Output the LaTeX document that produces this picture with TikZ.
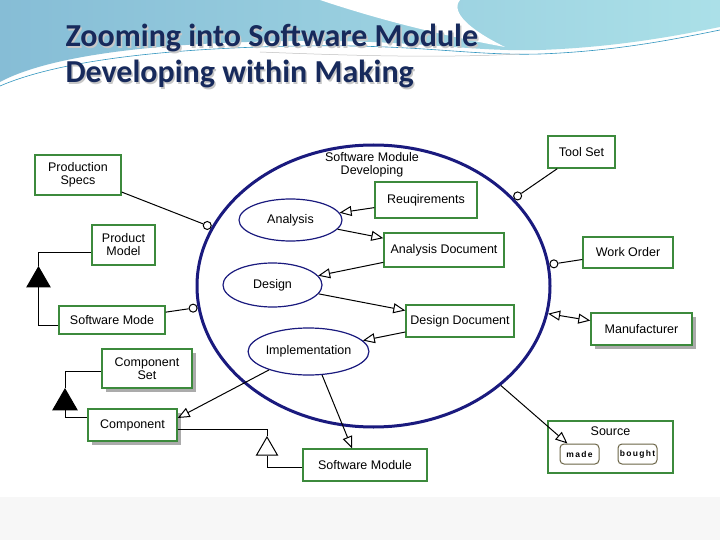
\documentclass[tikz,border=0pt]{standalone}
\usepackage{fontspec}
\setmainfont{Liberation Sans}
\newfontfamily\titlefont{Carlito}
\usetikzlibrary{arrows.meta,positioning,shapes.geometric,shadows}

\definecolor{devblue}{HTML}{1A1A7E}
\definecolor{boxgreen}{HTML}{3C8A3C}
\definecolor{titlenavy}{HTML}{172A5C}
\definecolor{wavedark}{HTML}{86BDD6}
\definecolor{wavelight}{HTML}{ABE0E8}
\definecolor{tagbrown}{HTML}{6B6446}

\tikzset{
  box/.style={rectangle, draw=boxgreen, line width=1.4pt, fill=white, inner sep=2pt,
    align=center, font=\fontsize{12.5}{13}\selectfont},
  shbox/.style={box, drop shadow={shadow xshift=4pt, shadow yshift=-4pt, fill=black!33, opacity=1}},
  act/.style={ellipse, draw=devblue, line width=1.2pt, inner sep=0pt, font=\fontsize{12.5}{13}\selectfont},
  lolli/.style={circle, draw, fill=white, line width=1pt, minimum size=8pt, inner sep=0pt},
  tag/.style={rectangle, rounded corners=4pt, draw=tagbrown, line width=1pt, minimum width=39pt,
    minimum height=20pt, inner sep=0pt, font=\fontsize{8.5}{9}\selectfont\bfseries\addfontfeatures{LetterSpace=15}},
  arr/.style={-{Triangle[open, length=12pt, width=10pt]}, line width=1pt},
  gen/.style={regular polygon, regular polygon sides=3, draw, line width=1pt, inner sep=0pt},
  titletext/.style={anchor=base west, font=\titlefont\bfseries\fontsize{32}{36}\selectfont}
}

\begin{document}
\begin{tikzpicture}[x=1pt, y=-1pt, node distance=18pt]
    \useasboundingbox (0,0) rectangle (720,540);
    % slide background
    \fill[white] (0,0) rectangle (720,540);
    \fill[black!3] (0,497) rectangle (720,540);
    \shade[left color=wavedark, right color=wavelight]
      (0,0) -- (720,0) -- (720,27) .. controls (680,35) and (620,47) .. (540,50)
      .. controls (470,52) and (420,40) .. (300,41) .. controls (160,42) and (50,55) .. (0,82) -- cycle;
    \fill[white] (320,0) .. controls (380,20) and (440,35) .. (505,47)
      .. controls (470,30) and (450,12) .. (460,0) -- cycle;
    \draw[cyan!50!teal, line width=0.6pt] (0,86) .. controls (60,60) and (170,48) .. (300,46)
      .. controls (420,44) and (470,56) .. (540,54) .. controls (620,51) and (680,38) .. (720,30);
    \draw[black!25, line width=0.5pt] (260,52) .. controls (360,56) and (440,58) .. (520,54);

    % title
    \node[titletext, text=black!22] (t1s) at (63.5,48.5) {Zooming into Software Module};
    \node[titletext, text=black!22] (t2s) at (63.5,84.5) {Developing within Making};
    \node[titletext, text=titlenavy] (t1) at (62,47) {Zooming into Software Module};
    \node[titletext, text=titlenavy] (t2) at (62,83) {Developing within Making};

    % developing process
    \node[ellipse, draw=devblue, line width=3pt, minimum width=353pt, minimum height=282pt] (dev) at (373.5,286) {};
    \node[align=center, font=\fontsize{12.5}{13}\selectfont] (devlbl) at (372,165) {Software Module\\Developing};

    \node[act, minimum width=103pt, minimum height=42pt] (ana) at (290.5,220) {Analysis};
    \node[act, minimum width=99pt, minimum height=44pt] (des) at (272.5,285) {Design};
    \node[act, minimum width=117pt, minimum height=47pt] (impl) at (308.5,351.5) {Implementation};

    \node[box, minimum width=102pt, minimum height=36pt] (req) at (426,200) {Reuqirements};
    \node[box, minimum width=120pt, minimum height=34pt] (adoc) at (444,250) {Analysis Document};
    \node[box, minimum width=108pt, minimum height=32pt] (ddoc) at (460,321) {Design Document};

    % outside items
    \node[box, minimum width=86pt, minimum height=40pt] (pspec) at (78,175) {Production\\Specs};
    \node[box, minimum width=63pt, minimum height=40pt] (pmod) at (123.5,245) {Product\\Model};
    \node[box, minimum width=106pt, minimum height=28pt] (smod) at (112,320) {Software Mode};
    \node[shbox, minimum width=90pt, minimum height=39pt] (cset) at (147,368.5) {Component\\Set};
    \node[shbox, minimum width=89pt, minimum height=32pt] (comp) at (132.5,425) {Component};
    \node[box, minimum width=124pt, minimum height=32pt] (swm) at (365,465) {Software Module};

    \node[box, minimum width=67pt, minimum height=32pt] (tool) at (581.5,152) {Tool Set};
    \node[box, minimum width=90pt, minimum height=31pt] (work) at (628,252.5) {Work Order};
    \node[shbox, minimum width=101pt, minimum height=32pt] (manu) at (641.5,329) {Manufacturer};
    \node[box, minimum width=125pt, minimum height=52pt] (src) at (610.5,447) {};
    \node[font=\fontsize{12.5}{13}\selectfont, below=3pt of src.north] (srclbl) {Source};
    \node[tag] (made) at (579.5,454) {made};
    \node[tag, right=of made] (bought) {bought};

    % generalisation triangles
    \node[gen, fill=black, minimum size=26.6pt] (gp) at (38.5,280.3) {};
    \node[gen, fill=black, minimum size=27.7pt] (gc) at (65,402.9) {};
    \node[gen, fill=white, minimum size=24.2pt] (gs) at (267,449.1) {};

    % interface circles
    \node[lolli, anchor=340] (lps) at (dev.160) {};
    \node[lolli, anchor=7] (lsm) at (dev.187) {};
    \node[lolli, anchor=212] (lts) at (dev.32) {};
    \node[lolli, anchor=187] (lwo) at (dev.7) {};

    % flow
    \draw[arr] (req) -- (ana);
    \draw[arr] (ana) -- (adoc);
    \draw[arr] (adoc) -- (des);
    \draw[arr] (des) -- (ddoc);
    \draw[arr] (ddoc) -- (impl);
    \draw[arr] (impl.300) -- ([xshift=-13pt]swm.north);
    \draw[arr] (impl.205) -- ([yshift=7pt]comp.east);
    \draw[arr] (dev.322) -- (made);
    \draw[{Triangle[open, length=12pt, width=10pt]}-{Triangle[open, length=12pt, width=10pt]}, line width=1pt]
      (dev.351.6) -- (manu);

    % interfaces
    \draw[line width=1pt] (pspec) -- (lps);
    \draw[line width=1pt] (smod) -- (lsm);
    \draw[line width=1pt] (tool) -- (lts);
    \draw[line width=1pt] (work) -- (lwo);

    % hierarchy
    \draw[line width=1pt] (gp.corner 1) |- ([yshift=-7pt]pmod.west);
    \draw[line width=1pt] (gp.side 2) |- ([yshift=-5pt]smod.west);
    \draw[line width=1pt] (gc.corner 1) |- ([yshift=-2.5pt]cset.west);
    \draw[line width=1pt] (gc.side 2) |- ([yshift=8pt]comp.west);
    \draw[line width=1pt] ([yshift=-4pt]comp.east) -| (gs.corner 1);
    \draw[line width=1pt] (gs.side 2) |- ([yshift=-2pt]swm.west);
\end{tikzpicture}
\end{document}
